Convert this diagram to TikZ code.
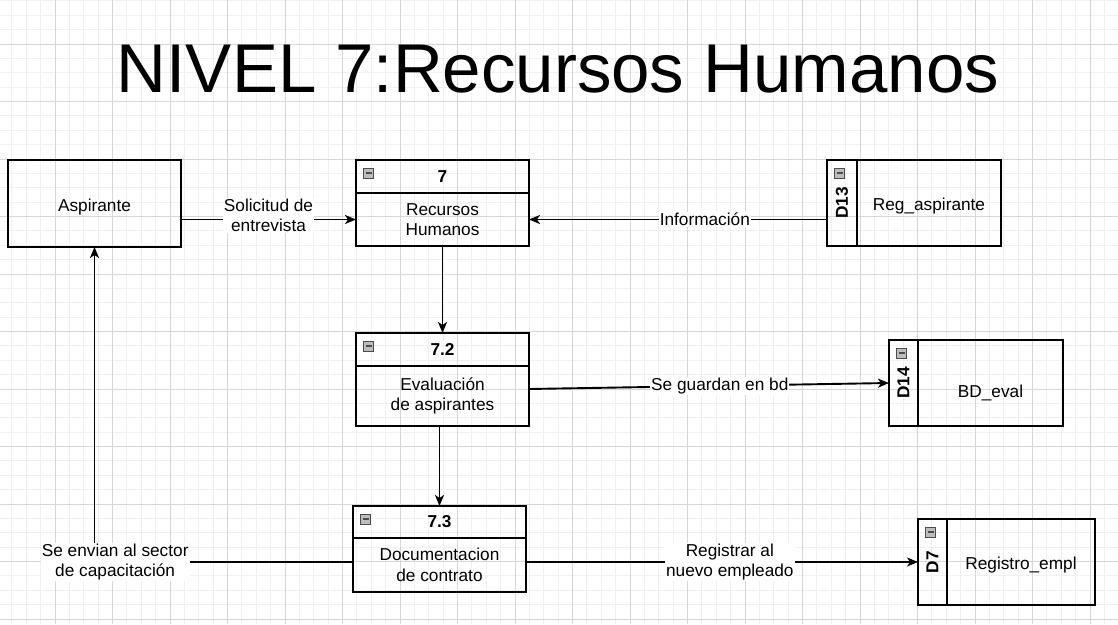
\documentclass[tikz,border=0pt]{standalone}
\usepackage{fontspec}
\setmainfont{Liberation Sans}
\usepackage{graphicx}
\usetikzlibrary{positioning,arrows.meta}
\definecolor{gridminor}{HTML}{F0F0F0}
\definecolor{gridmajor}{HTML}{D6D6D6}
\definecolor{iconfill}{HTML}{BDBDBD}
\newcommand{\dfdfont}{\fontsize{17.25}{20.5}\selectfont}

\begin{document}
\begin{tikzpicture}[
		x=1pt, y=-1pt,
		box/.style={
			draw,
			line width=1.9pt,
			inner sep=0pt,
			outer sep=0pt,
			minimum width=173pt,
			minimum height=87pt,
			align=center,
		},
		oneline/.style={text height=17pt, text depth=2pt},
		prochead/.style={box, minimum height=33pt, font=\dfdfont\bfseries},
		procbody/.style={box, minimum height=53pt},
		storetag/.style={box, minimum width=30pt, minimum height=86pt, font=\dfdfont\bfseries},
		storebody/.style={box, oneline, minimum width=144pt, minimum height=86pt},
		collapse/.style={
			draw=gray!60!black,
			fill=iconfill,
			line width=0.6pt,
			minimum size=10pt,
			inner sep=0pt,
			path picture={\draw[line width=1.6pt] ([xshift=-3pt]path picture bounding box.center) -- ([xshift=3pt]path picture bounding box.center);},
		},
		flow/.style={->, line width=1.9pt},
		flowlabel/.style={fill=white, align=center, inner sep=1pt},
		font=\dfdfont,
		>={Stealth[length=11pt,width=9pt,inset=3pt]}
		]
		\useasboundingbox (0,0) rectangle (1118,624);
		\fill[white] (0,0) rectangle (1118,624);
		% Draw the grid
		\foreach \i in {0,...,77}
			\draw[gridminor, line width=0.9pt] ({11.875+\i*14.375},0) -- ({11.875+\i*14.375},624);
		\foreach \i in {0,...,43}
			\draw[gridminor, line width=0.9pt] (0,{0.875+\i*14.375}) -- (1118,{0.875+\i*14.375});
		\foreach \i in {0,...,18}
			\draw[gridmajor, line width=0.9pt] ({55+\i*57.5},0) -- ({55+\i*57.5},624);
		\foreach \i in {0,...,10}
			\draw[gridmajor, line width=0.9pt] (0,{44+\i*57.5}) -- (1118,{44+\i*57.5});
		% Draw the title
		\node[anchor=base, font=\fontsize{69}{78}\selectfont] (title) at (558,92) {NIVEL 7:Recursos Humanos};
		% Draw the external entity
		\node[box, oneline] (asp) at (94.5,203.5) {Aspirante};
		% Draw the processes
		\foreach \id/\cx/\top/\hh/\bh/\num/\txt in {
			p7/442.5/160/33/53/7/{Recursos\\Humanos},
			p72/442.5/333/33/60/7.2/{Evaluación\\de aspirantes},
			p73/439.5/506/32/54/7.3/{Documentacion\\de contrato}} {
			\node[prochead, minimum height=\hh pt, anchor=north] (\id) at (\cx,\top) {\num};
			\node[procbody, minimum height=\bh pt, below=0pt of \id] (\id-body) {\txt};
			\node[collapse] (\id-icon) at ([xshift=12.5pt,yshift=-13pt]\id.north west) {};
		}
		% Draw the data stores
		\foreach \id/\lx/\top/\tw/\bw/\num/\txt in {
			d13/827/160/30/144/D13/{Reg\_aspirante},
			d14/889/340/29/145/D14/{\raisebox{-7pt}{BD\_eval}},
			d7/918/519/29/148/D7/{Registro\_empl}} {
			\node[storetag, minimum width=\tw pt, anchor=north west] (\id) at (\lx,\top) {\rotatebox{90}{\num}};
			\node[storebody, minimum width=\bw pt, right=0pt of \id] (\id-body) {\txt};
			\node[collapse] (\id-icon) at ([xshift=12.5pt,yshift=-13pt]\id.north west) {};
		}
		% Draw the data flows
		\draw[flow] (asp.east |- p7-body.west) -- node[flowlabel, yshift=4pt] {Solicitud de\\entrevista} (p7-body.west);
		\draw[flow] (d13.west |- p7-body.east) -- node[flowlabel, pos=0.41] {Información} (p7-body.east);
		\draw[flow] (p7-body.south) -- (p72.north);
		\draw[flow] ([yshift=7pt]p72-body.east) -- node[flowlabel, pos=0.53] {Se guardan en bd} (d14.west);
		\draw[flow] (p72-body.south -| p73.north) -- (p73.north);
		\draw[flow] (p73-body.east |- d7.west) -- node[flowlabel, pos=0.52] {Registrar al\\nuevo empleado} (d7.west);
		\draw[flow] (p73-body.west |- d7.west) -| node[flowlabel, pos=0.46] {Se envian al sector\\de capacitación} (asp.south);
	\end{tikzpicture}
\end{document}
